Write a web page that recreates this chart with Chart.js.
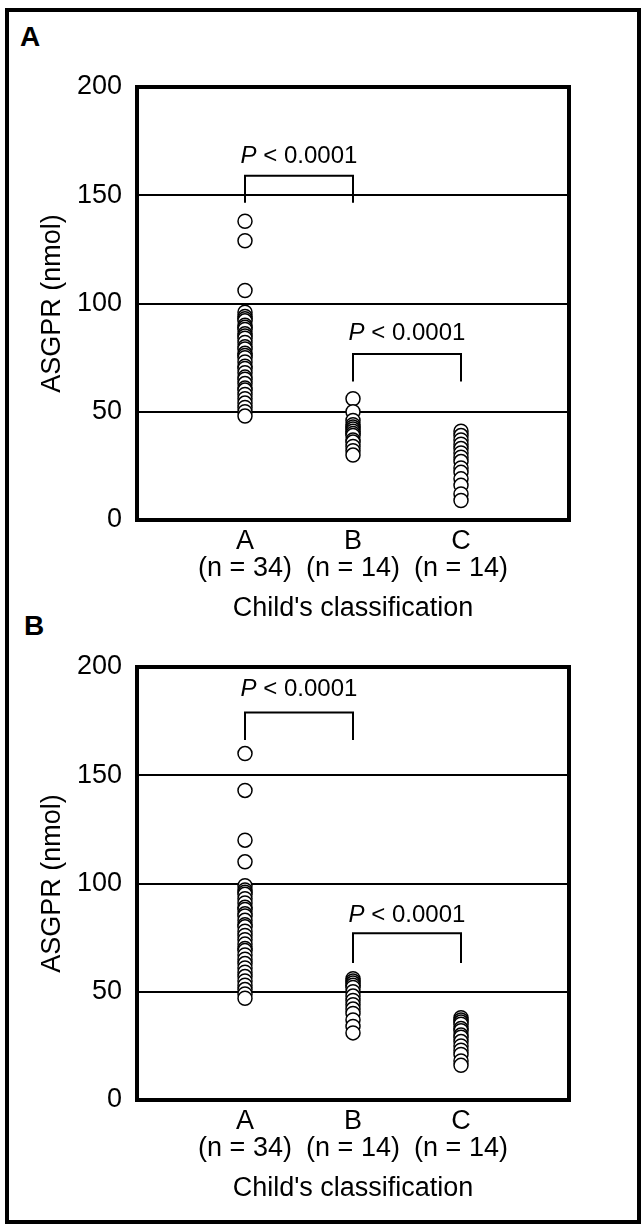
<!DOCTYPE html>
<html><head><meta charset="utf-8">
<script src="https://cdn.jsdelivr.net/npm/chart.js@4"></script>
<style>
html,body{margin:0;padding:0;background:#fff;}
body{width:641px;height:1224px;position:relative;overflow:hidden;font-family:'Liberation Sans',Arial,sans-serif;}
#frame{position:absolute;left:5px;top:8px;width:636px;height:1216px;box-sizing:border-box;border:4px solid #000;}
.plab{position:absolute;font:bold 28px 'Liberation Sans',Arial,sans-serif;line-height:28px;color:#000;}
.wrap{position:absolute;left:0;width:641px;height:640px;}
canvas{display:block;}
</style></head>
<body>
<div id="frame"></div>
<div class="plab" style="left:20px;top:23px">A</div>
<div class="plab" style="left:24px;top:612px">B</div>
<div class="wrap" style="top:0"><canvas id="cA" width="641" height="640"></canvas></div>
<div class="wrap" style="top:580px"><canvas id="cB" width="641" height="640"></canvas></div>
<script>
// ---- data ----
const categories = ['A', 'B', 'C'];
const groupSizes = [34, 14, 14];
const categoryPositions = [1, 2, 3];
const yTickValues = [0, 50, 100, 150, 200];
const gridValues = [50, 100, 150];
const yTitle = 'ASGPR (nmol)';
const xTitle = "Child's classification";
const pSymbol = 'P';
const pRest = ' < 0.0001';

// Panel A values (nmol)
const panelA_A = [138, 129, 106, 96, 94, 93, 92, 90, 89, 88, 86, 85, 84, 82, 80, 79, 77, 76, 75, 73, 71, 70, 68, 66, 65, 63, 61, 60, 58, 56, 54, 52, 50, 48];
const panelA_B = [56, 50, 46, 44, 43, 42, 41, 40, 39, 37, 36, 34, 32, 30];
const panelA_C = [41, 39, 37, 35, 33, 31, 29, 27, 24, 22, 19, 16, 12, 9];
// Panel B values (nmol)
const panelB_A = [160, 143, 120, 110, 99, 97, 96, 95, 93, 91, 89, 88, 86, 85, 83, 81, 80, 78, 76, 74, 72, 70, 69, 67, 65, 63, 61, 59, 57, 55, 53, 51, 49, 47];
const panelB_B = [56, 55, 54, 53, 52, 50, 48, 46, 44, 42, 40, 37, 34, 31];
const panelB_C = [38, 37, 36, 35, 33, 32, 30, 29, 27, 25, 23, 21, 18, 16];

// Significance brackets: [from category position, to category position, top value, leg end value, label value]
const panelA_brackets = [[1, 2, 159, 146.5, 168], [2, 3, 76.7, 64, 86]];
const panelB_brackets = [[1, 2, 179, 166.3, 189.5], [2, 3, 77, 63.3, 85.5]];

// ---- chart ----
Chart.defaults.color = '#000';
Chart.defaults.font.family = "'Liberation Sans', Arial, sans-serif";

const FONT = 27;

const boxPlugin = {
  id: 'box',
  beforeDatasetsDraw(chart) {
    const a = chart.chartArea, ctx = chart.ctx;
    ctx.save();
    ctx.strokeStyle = '#000';
    ctx.lineWidth = 4;
    ctx.strokeRect(a.left, a.top, a.right - a.left, a.bottom - a.top);
    ctx.restore();
  }
};

const pTextPlugin = {
  id: 'ptext',
  afterDatasetsDraw(chart) {
    const brackets = chart.options.plugins.ptext.brackets;
    const ctx = chart.ctx, xs = chart.scales.x, ys = chart.scales.y;
    ctx.save();
    ctx.fillStyle = '#000';
    ctx.textBaseline = 'middle';
    ctx.textAlign = 'left';
    const fam = "'Liberation Sans', Arial, sans-serif";
    brackets.forEach(b => {
      const cx = (xs.getPixelForValue(b[0]) + xs.getPixelForValue(b[1])) / 2;
      const cy = ys.getPixelForValue(b[4]);
      ctx.font = 'italic 24px ' + fam;
      const w1 = ctx.measureText(pSymbol).width;
      ctx.font = '24px ' + fam;
      const w2 = ctx.measureText(pRest).width;
      let x0 = cx - (w1 + w2) / 2;
      ctx.font = 'italic 24px ' + fam;
      ctx.fillText(pSymbol, x0, cy);
      ctx.font = '24px ' + fam;
      ctx.fillText(pRest, x0 + w1, cy);
    });
    ctx.restore();
  }
};

function makeChart(id, groups, brackets) {
  const pts = [];
  groups.forEach((vals, i) => vals.forEach(v => pts.push({x: categoryPositions[i], y: v})));
  const datasets = [];
  brackets.forEach(b => {
    datasets.push({
      type: 'line',
      data: [{x: b[0], y: b[3]}, {x: b[0], y: b[2]}, {x: b[1], y: b[2]}, {x: b[1], y: b[3]}],
      borderColor: '#000', borderWidth: 2, pointRadius: 0, fill: false, tension: 0, showLine: true
    });
  });
  datasets.push({
    data: pts, pointRadius: 7, borderWidth: 1.5, borderColor: '#000', backgroundColor: '#fff'
  });
  datasets.push({
    data: pts, pointRadius: 0.9, borderWidth: 0, backgroundColor: '#000'
  });
  return new Chart(document.getElementById(id), {
    type: 'scatter',
    data: {datasets},
    options: {
      responsive: false,
      animation: false,
      events: [],
      layout: {padding: {top: 87, right: 72, left: 0, bottom: 0}},
      plugins: {legend: {display: false}, tooltip: {enabled: false}, ptext: {brackets}},
      scales: {
        x: {
          type: 'linear', min: 0, max: 4,
          afterBuildTicks: s => { s.ticks = categoryPositions.map(v => ({value: v})); },
          afterFit: s => { s.height = 120; },
          grid: {display: false, drawTicks: false},
          border: {display: false},
          ticks: {
            autoSkip: false, maxRotation: 0, padding: 8,
            font: {size: FONT, lineHeight: 1.0},
            callback: v => {
              const i = categoryPositions.indexOf(v);
              return i >= 0 ? [categories[i], '(n = ' + groupSizes[i] + ')'] : '';
            }
          },
          title: {display: true, text: xTitle, font: {size: FONT}, padding: {top: 0, bottom: 15}}
        },
        y: {
          min: 0, max: 200,
          afterBuildTicks: s => { s.ticks = yTickValues.map(v => ({value: v})); },
          afterFit: s => { s.width = 137; },
          grid: {
            drawTicks: false, lineWidth: 2,
            color: c => (c.tick && gridValues.includes(c.tick.value)) ? '#000' : 'rgba(0,0,0,0)'
          },
          border: {display: false},
          ticks: {padding: 15, font: {size: FONT}},
          title: {display: true, text: yTitle, font: {size: FONT}, padding: {top: 36, bottom: 0}}
        }
      }
    },
    plugins: [boxPlugin, pTextPlugin]
  });
}

makeChart('cA', [panelA_A, panelA_B, panelA_C], panelA_brackets);
makeChart('cB', [panelB_A, panelB_B, panelB_C], panelB_brackets);
</script>
</body></html>
